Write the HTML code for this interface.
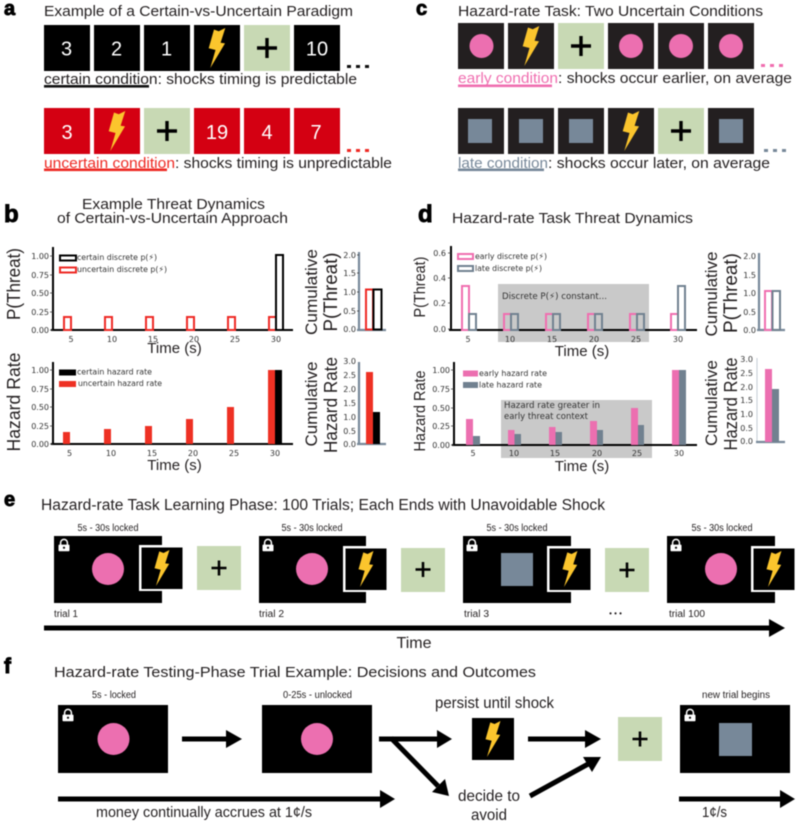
<!DOCTYPE html>
<html><head><meta charset="utf-8"><title>Hazard-rate task diagram</title>
<style>
html,body{margin:0;padding:0;background:#fff}
svg{display:block;filter:blur(.45px)}
text{font-family:"Liberation Sans",sans-serif;fill:#231f20}
.t{font-family:"DejaVu Sans",sans-serif;font-size:8px;fill:#333}
.e{text-anchor:end}.m{text-anchor:middle}
.L{font-family:"DejaVu Sans",sans-serif;font-size:8px;fill:#333}
.lab{font-weight:bold;stroke:#000;stroke-width:.9px;fill:#000}
.ax{stroke:#000;stroke-width:2;fill:none}
.gx{stroke:#778899;stroke-width:2.2;fill:none}
.tk{stroke:#333;stroke-width:.7;fill:none}
.oR{fill:none;stroke:#ee2a24;stroke-width:2}
.oK{fill:none;stroke:#000;stroke-width:2}
.oP{fill:none;stroke:#f06eb0;stroke-width:2}
.oG{fill:none;stroke:#718190;stroke-width:2}
</style></head><body>
<svg xmlns="http://www.w3.org/2000/svg" width="800" height="824" viewBox="0 0 800 824">
<defs>
<polygon id="bolt" points="-3,-18.5 1.7,-16.7 8.3,-20 3.6,-5.2 8,-4.6 -6.7,20 -1.5,2 -8.3,0.3" fill="#fbc52d"/>
<g id="plus"><path d="M-10,0H10M0,-10V10" stroke="#000" stroke-width="3.4" fill="none"/></g>
<g id="lock"><path d="M2.6,6V3.8a3.4,3.4 0 0 1 6.8,0V6" fill="none" stroke="#fff" stroke-width="1.5"/><rect x="0.5" y="5.6" width="11" height="6.6" rx=".8" fill="#fff"/><circle cx="6" cy="8.7" r="1.1" fill="#000"/></g>
<g id="shock"><rect x="0" y="0" width="45" height="46" fill="#fff"/><rect x="2.5" y="2.5" width="41" height="41.5" fill="#000"/><use href="#bolt" transform="translate(23,23) scale(.9)"/></g>
</defs>

<!-- panel a -->
<text class="lab" x="4" y="15" font-size="20">a</text>
<text x="44" y="16" font-size="14.8" textLength="309" lengthAdjust="spacingAndGlyphs">Example of a Certain-vs-Uncertain Paradigm</text>
<g fill="#000"><rect x="44" y="25" width="46" height="46"/><rect x="94" y="25" width="46" height="46"/><rect x="144" y="25" width="46" height="46"/><rect x="194" y="25" width="46" height="46"/><rect x="294" y="25" width="46" height="46"/></g>
<rect x="244" y="25" width="46" height="46" fill="#c8d9b4"/>
<g font-size="20" text-anchor="middle"><text x="66.5" y="55.5" style="fill:#fff">3</text><text x="116.5" y="55.5" style="fill:#fff">2</text><text x="166.5" y="55.5" style="fill:#fff">1</text><text x="317" y="55.5" style="fill:#fff">10</text></g>
<use href="#bolt" x="217" y="48"/><use href="#plus" x="267" y="48"/>
<g fill="#111"><rect x="347" y="65" width="4" height="3"/><rect x="356" y="65" width="4" height="3"/><rect x="365" y="65" width="4" height="3"/></g>
<text x="44" y="84" font-size="14.8" textLength="313" lengthAdjust="spacingAndGlyphs">certain condition: shocks timing is predictable</text>
<rect x="44" y="85" width="105" height="2.6" fill="#111"/>

<g fill="#d40012"><rect x="44" y="108" width="46" height="46"/><rect x="94" y="108" width="46" height="46"/><rect x="194" y="108" width="46" height="46"/><rect x="244" y="108" width="46" height="46"/><rect x="294" y="108" width="46" height="46"/></g>
<rect x="144" y="108" width="46" height="46" fill="#c8d9b4"/>
<g font-size="20" text-anchor="middle"><text x="67" y="139" style="fill:#fff">3</text><text x="217" y="139" style="fill:#fff">19</text><text x="267" y="139" style="fill:#fff">4</text><text x="316" y="139" style="fill:#fff">7</text></g>
<use href="#bolt" x="117" y="131"/><use href="#plus" x="167" y="131"/>
<g fill="#ee2a24"><rect x="347" y="149" width="4" height="3"/><rect x="356" y="149" width="4" height="3"/><rect x="365" y="149" width="4" height="3"/></g>
<text x="44" y="168" font-size="14.8" textLength="131" lengthAdjust="spacingAndGlyphs" style="fill:#ee2a24">uncertain condition</text>
<text x="175" y="168" font-size="14.8" textLength="217" lengthAdjust="spacingAndGlyphs">: shocks timing is unpredictable</text>
<rect x="44" y="168.5" width="123" height="2.6" fill="#ee2a24"/>

<!-- panel c -->
<text class="lab" x="416" y="15" font-size="20">c</text>
<text x="458" y="16" font-size="14.8" textLength="305" lengthAdjust="spacingAndGlyphs">Hazard-rate Task: Two Uncertain Conditions</text>
<g fill="#231f20"><rect x="458" y="23" width="46" height="46"/><rect x="508" y="23" width="46" height="46"/><rect x="608" y="23" width="46" height="46"/><rect x="658" y="23" width="46" height="46"/><rect x="708" y="23" width="46" height="46"/></g>
<rect x="558" y="23" width="46" height="46" fill="#c8d9b4"/>
<g fill="#ec6fb0"><circle cx="481.5" cy="46" r="12"/><circle cx="631" cy="46" r="12"/><circle cx="681" cy="46" r="12"/><circle cx="731" cy="46" r="12"/></g>
<use href="#bolt" x="531" y="46"/><use href="#plus" x="581" y="46"/>
<g fill="#f06eb0"><rect x="761" y="64" width="4" height="3"/><rect x="770" y="64" width="4" height="3"/><rect x="779" y="64" width="4" height="3"/></g>
<text x="458" y="83" font-size="14.8" textLength="100" lengthAdjust="spacingAndGlyphs" style="fill:#f06eb0">early condition</text>
<text x="558" y="83" font-size="14.8" textLength="234" lengthAdjust="spacingAndGlyphs">: shocks occur earlier, on average</text>
<rect x="458" y="84.5" width="94" height="2.6" fill="#f06eb0"/>

<g fill="#231f20"><rect x="458" y="108" width="46" height="46"/><rect x="508" y="108" width="46" height="46"/><rect x="558" y="108" width="46" height="46"/><rect x="608" y="108" width="46" height="46"/><rect x="708" y="108" width="46" height="46"/></g>
<rect x="658" y="108" width="46" height="46" fill="#c8d9b4"/>
<g fill="#778899"><rect x="468" y="119" width="24" height="24"/><rect x="519" y="119" width="24" height="24"/><rect x="569" y="119" width="24" height="24"/><rect x="719" y="119" width="24" height="24"/></g>
<use href="#bolt" x="631" y="131"/><use href="#plus" x="681" y="131"/>
<g fill="#778899"><rect x="764" y="149" width="4" height="3"/><rect x="773" y="149" width="4" height="3"/><rect x="782" y="149" width="4" height="3"/></g>
<text x="458" y="168" font-size="14.8" textLength="90" lengthAdjust="spacingAndGlyphs" style="fill:#778899">late condition</text>
<text x="548" y="168" font-size="14.8" textLength="222" lengthAdjust="spacingAndGlyphs">: shocks occur later, on average</text>
<rect x="458" y="168.5" width="86" height="2.6" fill="#778899"/>

<!-- panel b -->
<text class="lab" x="4" y="222" font-size="24">b</text>
<text x="173.5" y="209" class="m" font-size="14.8" textLength="183" lengthAdjust="spacingAndGlyphs">Example Threat Dynamics</text>
<text x="172.5" y="223" class="m" font-size="14.8" textLength="231" lengthAdjust="spacingAndGlyphs">of Certain-vs-Uncertain Approach</text>

<!-- b chart 1 -->
<path class="ax" d="M53,247V330M51,330H293"/>
<path class="tk" d="M50,256h3M50,275h3M50,293h3M50,312h3M50,330h3"/>
<text class="t e" x="49" y="259">1.00</text><text class="t e" x="49" y="278">0.75</text><text class="t e" x="49" y="296">0.50</text><text class="t e" x="49" y="315">0.25</text><text class="t e" x="49" y="333">0.00</text>
<text class="t m" x="71" y="342">5</text><text class="t m" x="112" y="342">10</text><text class="t m" x="153" y="342">15</text><text class="t m" x="194" y="342">20</text><text class="t m" x="235" y="342">25</text><text class="t m" x="276" y="342">30</text>
<rect class="oR" x="64" y="317" width="7" height="13"/><rect class="oR" x="105" y="317" width="7" height="13"/><rect class="oR" x="146" y="317" width="7" height="13"/><rect class="oR" x="187" y="317" width="7" height="13"/><rect class="oR" x="228" y="317" width="7" height="13"/><rect class="oR" x="269" y="317" width="7" height="13"/>
<rect class="oK" x="276" y="255" width="7" height="75"/>
<rect class="oK" x="60" y="255.5" width="16" height="5"/><text class="L" x="77" y="260" textLength="80" lengthAdjust="spacingAndGlyphs">certain discrete p(⚡)</text>
<rect class="oR" x="60" y="267.5" width="16" height="5"/><text class="L" x="77" y="272" textLength="90" lengthAdjust="spacingAndGlyphs">uncertain discrete p(⚡)</text>
<text x="174.5" y="353" class="m" font-size="15">Time (s)</text>
<text transform="translate(20,284) rotate(-90)" class="m" font-size="18" textLength="72" lengthAdjust="spacingAndGlyphs">P(Threat)</text>

<!-- b chart 1 small -->
<path class="gx" d="M359,252V330M357,330H386"/>
<path class="tk" d="M357,255h2M357,273h2M357,292h2M357,311h2"/>
<text class="t e" x="356" y="258">2.0</text><text class="t e" x="356" y="276">1.5</text><text class="t e" x="356" y="295">1.0</text><text class="t e" x="356" y="314">0.5</text><text class="t e" x="356" y="332">0.0</text>
<rect class="oR" x="366" y="289.5" width="7" height="40"/><rect class="oK" x="373.5" y="289.5" width="8" height="40"/>
<text transform="translate(317,292) rotate(-90)" class="m" font-size="17" textLength="86" lengthAdjust="spacingAndGlyphs">Cumulative</text>
<text transform="translate(337,292) rotate(-90)" class="m" font-size="19" textLength="79" lengthAdjust="spacingAndGlyphs">P(Threat)</text>

<!-- b chart 2 -->
<path class="ax" d="M53,362V444M51,444H293"/>
<path class="tk" d="M50,370h3M50,389h3M50,407h3M50,426h3M50,444h3"/>
<text class="t e" x="49" y="373">1.00</text><text class="t e" x="49" y="392">0.75</text><text class="t e" x="49" y="410">0.50</text><text class="t e" x="49" y="429">0.25</text><text class="t e" x="49" y="447">0.00</text>
<text class="t m" x="69.5" y="456">5</text><text class="t m" x="111" y="456">10</text><text class="t m" x="152" y="456">15</text><text class="t m" x="193" y="456">20</text><text class="t m" x="234" y="456">25</text><text class="t m" x="275" y="456">30</text>
<g fill="#ee3124"><rect x="63" y="432" width="7" height="12"/><rect x="104" y="429" width="7" height="15"/><rect x="145" y="426" width="7" height="18"/><rect x="186" y="419" width="7" height="25"/><rect x="227" y="407" width="7" height="37"/><rect x="268" y="370" width="7" height="74"/></g>
<rect x="275" y="370" width="7" height="74" fill="#000"/>
<rect x="59" y="369.5" width="17" height="6" fill="#000"/><text class="L" x="77" y="374.5" textLength="75" lengthAdjust="spacingAndGlyphs">certain hazard rate</text>
<rect x="59" y="381" width="17" height="6" fill="#ee3124"/><text class="L" x="78" y="386" textLength="84" lengthAdjust="spacingAndGlyphs">uncertain hazard rate</text>
<text x="174.5" y="470" class="m" font-size="15">Time (s)</text>
<text transform="translate(20,402) rotate(-90)" class="m" font-size="18" textLength="99" lengthAdjust="spacingAndGlyphs">Hazard Rate</text>

<!-- b chart 2 small -->
<path class="gx" d="M359,362V444M357,444H386"/>
<text class="t e" x="356" y="364">3.0</text><text class="t e" x="356" y="378">2.5</text><text class="t e" x="356" y="392">2.0</text><text class="t e" x="356" y="406">1.5</text><text class="t e" x="356" y="420">1.0</text><text class="t e" x="356" y="434">0.5</text><text class="t e" x="356" y="447">0.0</text>
<rect x="366" y="372" width="7" height="72" fill="#ee3124"/><rect x="373" y="412" width="7" height="32" fill="#000"/>
<text transform="translate(317,404) rotate(-90)" class="m" font-size="17" textLength="85" lengthAdjust="spacingAndGlyphs">Cumulative</text>
<text transform="translate(337,405) rotate(-90)" class="m" font-size="18" textLength="96" lengthAdjust="spacingAndGlyphs">Hazard Rate</text>

<!-- panel d -->
<text class="lab" x="418" y="222" font-size="24">d</text>
<text x="452" y="223" font-size="14.8" textLength="241" lengthAdjust="spacingAndGlyphs">Hazard-rate Task Threat Dynamics</text>

<!-- d chart 1 -->
<rect x="498" y="284" width="151" height="58" fill="#c9c9c9"/>
<path class="ax" d="M451,246V330M449,330H697"/>
<path class="tk" d="M448,253h3M448,278h3M448,303h3M448,329h3"/>
<text class="t e" x="446" y="256">0.6</text><text class="t e" x="446" y="281">0.4</text><text class="t e" x="446" y="306">0.2</text><text class="t e" x="446" y="332">0.0</text>
<text class="t m" x="468" y="342">5</text><text class="t m" x="510" y="342">10</text><text class="t m" x="552" y="342">15</text><text class="t m" x="594" y="342">20</text><text class="t m" x="636" y="342">25</text><text class="t m" x="678" y="342">30</text>
<text class="L" x="502" y="299" style="font-size:8.5px" textLength="105" lengthAdjust="spacingAndGlyphs">Discrete P(⚡) constant...</text>
<rect class="oP" x="462" y="286" width="7" height="44"/><rect class="oG" x="469" y="314" width="7" height="16"/>
<rect class="oP" x="504" y="314" width="7" height="16"/><rect class="oG" x="511" y="314" width="7" height="16"/>
<rect class="oP" x="546" y="314" width="7" height="16"/><rect class="oG" x="553" y="314" width="7" height="16"/>
<rect class="oP" x="588" y="314" width="7" height="16"/><rect class="oG" x="595" y="314" width="7" height="16"/>
<rect class="oP" x="630" y="314" width="7" height="16"/><rect class="oG" x="637" y="314" width="7" height="16"/>
<rect class="oP" x="671" y="314" width="7" height="16"/><rect class="oG" x="678" y="286" width="7" height="44"/>
<rect class="oP" x="458" y="254" width="15" height="5"/><text class="L" x="475" y="259" textLength="72" lengthAdjust="spacingAndGlyphs">early discrete p(⚡)</text>
<rect class="oG" x="458" y="266" width="15" height="5"/><text class="L" x="475" y="271" textLength="67" lengthAdjust="spacingAndGlyphs">late discrete p(⚡)</text>
<text x="582" y="356" class="m" font-size="15">Time (s)</text>
<text transform="translate(425,287) rotate(-90)" class="m" font-size="15.5" textLength="61" lengthAdjust="spacingAndGlyphs">P(Threat)</text>

<!-- d chart 1 small -->
<path class="gx" d="M759,253V330M757,330H785"/>
<text class="t e" x="756" y="259">2.0</text><text class="t e" x="756" y="278">1.5</text><text class="t e" x="756" y="296">1.0</text><text class="t e" x="756" y="315">0.5</text><text class="t e" x="756" y="333">0.0</text>
<rect class="oP" x="765" y="291" width="7" height="39"/><rect class="oG" x="772.5" y="291" width="7.5" height="39"/>
<text transform="translate(717,294) rotate(-90)" class="m" font-size="17" textLength="85" lengthAdjust="spacingAndGlyphs">Cumulative</text>
<text transform="translate(737,293) rotate(-90)" class="m" font-size="19" textLength="80" lengthAdjust="spacingAndGlyphs">P(Threat)</text>

<!-- d chart 2 -->
<rect x="501" y="400" width="151" height="58" fill="#c9c9c9"/>
<path class="ax" d="M454,362V445M452,445H697"/>
<path class="tk" d="M451,370h3M451,389h3M451,408h3M451,426h3M451,445h3"/>
<text class="t e" x="450" y="373">1.00</text><text class="t e" x="450" y="392">0.75</text><text class="t e" x="450" y="411">0.50</text><text class="t e" x="450" y="429">0.25</text><text class="t e" x="450" y="448">0.00</text>
<text class="t m" x="473" y="456">5</text><text class="t m" x="514" y="456">10</text><text class="t m" x="555" y="456">15</text><text class="t m" x="597" y="456">20</text><text class="t m" x="637" y="456">25</text><text class="t m" x="679" y="456">30</text>
<text class="L" x="504" y="408" style="font-size:8.5px" textLength="96" lengthAdjust="spacingAndGlyphs">Hazard rate greater in</text>
<text class="L" x="504" y="419" style="font-size:8.5px" textLength="84" lengthAdjust="spacingAndGlyphs">early threat context</text>
<g fill="#ec6fb0"><rect x="466" y="419" width="7" height="26"/><rect x="508" y="430" width="6.5" height="15"/><rect x="549" y="427" width="6.5" height="18"/><rect x="590" y="421" width="7" height="24"/><rect x="631" y="408" width="7" height="37"/><rect x="672" y="370" width="7" height="75"/></g>
<g fill="#718190"><rect x="473" y="436" width="7" height="9"/><rect x="514.5" y="434" width="6.5" height="11"/><rect x="555.5" y="432" width="6.5" height="13"/><rect x="597" y="430" width="6" height="15"/><rect x="638" y="425" width="6" height="20"/><rect x="679" y="370" width="7" height="75"/></g>
<rect x="463" y="370.5" width="15" height="6" fill="#ec6fb0"/><text class="L" x="479" y="376" textLength="68" lengthAdjust="spacingAndGlyphs">early hazard rate</text>
<rect x="463" y="382" width="15" height="6" fill="#718190"/><text class="L" x="479" y="387.5" textLength="63" lengthAdjust="spacingAndGlyphs">late hazard rate</text>
<text x="582" y="471" class="m" font-size="15">Time (s)</text>
<text transform="translate(425,411) rotate(-90)" class="m" font-size="15.5" textLength="81" lengthAdjust="spacingAndGlyphs">Hazard Rate</text>

<!-- d chart 2 small -->
<path d="M757,358V442" stroke="#c5cdd5" stroke-width="1" fill="none"/>
<path class="gx" d="M756,442H785"/>
<text class="t e" x="753" y="362">3.0</text><text class="t e" x="753" y="376">2.5</text><text class="t e" x="753" y="390">2.0</text><text class="t e" x="753" y="403">1.5</text><text class="t e" x="753" y="417">1.0</text><text class="t e" x="753" y="431">0.5</text><text class="t e" x="753" y="444">0.0</text>
<rect x="765" y="369" width="7" height="73" fill="#ec6fb0"/><rect x="772" y="389" width="7" height="53" fill="#718190"/>
<text transform="translate(717,403) rotate(-90)" class="m" font-size="17" textLength="86" lengthAdjust="spacingAndGlyphs">Cumulative</text>
<text transform="translate(737,404) rotate(-90)" class="m" font-size="18" textLength="93" lengthAdjust="spacingAndGlyphs">Hazard Rate</text>

<!-- panel e -->
<text class="lab" x="4" y="506" font-size="20">e</text>
<text x="41" y="510" font-size="15.5" textLength="564" lengthAdjust="spacingAndGlyphs">Hazard-rate Task Learning Phase: 100 Trials; Each Ends with Unavoidable Shock</text>

<text x="108" y="531" class="m" font-size="10" textLength="61" lengthAdjust="spacingAndGlyphs">5s - 30s locked</text>
<rect x="54" y="536" width="108" height="67" fill="#000"/>
<circle cx="108" cy="569" r="16" fill="#ec6fb0"/>
<use href="#lock" x="58" y="539"/>
<use href="#shock" x="139" y="545"/>
<rect x="197" y="546" width="44" height="44" fill="#c8d9b4"/>
<use href="#plus" transform="translate(219,568) scale(.75)"/>
<text x="54" y="617" font-size="10" textLength="24" lengthAdjust="spacingAndGlyphs">trial 1</text>

<text x="312" y="531" class="m" font-size="10" textLength="61" lengthAdjust="spacingAndGlyphs">5s - 30s locked</text>
<rect x="259" y="536" width="107" height="67" fill="#000"/>
<circle cx="312" cy="569" r="16" fill="#ec6fb0"/>
<use href="#lock" x="262" y="539"/>
<use href="#shock" x="343" y="546"/>
<rect x="401" y="548" width="44" height="44" fill="#c8d9b4"/>
<use href="#plus" transform="translate(423,569.5) scale(.75)"/>
<text x="259" y="617" font-size="10" textLength="25" lengthAdjust="spacingAndGlyphs">trial 2</text>

<text x="517" y="531" class="m" font-size="10" textLength="61" lengthAdjust="spacingAndGlyphs">5s - 30s locked</text>
<rect x="463" y="536" width="108" height="67" fill="#000"/>
<rect x="501" y="553" width="32" height="33" fill="#778899"/>
<use href="#lock" x="466" y="539"/>
<use href="#shock" x="547" y="546"/>
<rect x="605" y="548" width="44" height="44" fill="#c8d9b4"/>
<use href="#plus" transform="translate(627,570) scale(.75)"/>
<text x="464" y="617" font-size="10" textLength="25" lengthAdjust="spacingAndGlyphs">trial 3</text>
<text x="615.5" y="616" class="m" font-size="8">• • •</text>

<text x="722" y="531" class="m" font-size="10" textLength="61" lengthAdjust="spacingAndGlyphs">5s - 30s locked</text>
<rect x="667" y="536" width="108" height="67" fill="#000"/>
<circle cx="721" cy="569" r="16" fill="#ec6fb0"/>
<use href="#lock" x="670" y="539"/>
<use href="#shock" x="751" y="546"/>
<text x="669" y="617" font-size="10" textLength="36" lengthAdjust="spacingAndGlyphs">trial 100</text>

<rect x="44" y="625.5" width="726" height="5" fill="#000"/>
<polygon points="769,619 785,628 769,637" fill="#000"/>
<text x="414" y="648" class="m" font-size="16">Time</text>

<!-- panel f -->
<text class="lab" x="4" y="673" font-size="21">f</text>
<text x="54" y="677" font-size="14.8" textLength="482" lengthAdjust="spacingAndGlyphs">Hazard-rate Testing-Phase Trial Example: Decisions and Outcomes</text>

<text x="114" y="698" class="m" font-size="10" textLength="44" lengthAdjust="spacingAndGlyphs">5s - locked</text>
<rect x="58" y="705" width="110" height="68" fill="#000"/>
<circle cx="113.5" cy="739" r="16" fill="#ec6fb0"/>
<use href="#lock" x="62" y="709"/>

<rect x="182" y="736.5" width="45" height="5" fill="#000"/>
<polygon points="226,730 242,739 226,748" fill="#000"/>

<text x="317.5" y="698" class="m" font-size="10" textLength="69" lengthAdjust="spacingAndGlyphs">0-25s - unlocked</text>
<rect x="262" y="705" width="110" height="68" fill="#000"/>
<circle cx="317" cy="739" r="16" fill="#ec6fb0"/>

<rect x="379" y="736.5" width="59" height="5" fill="#000"/>
<polygon points="437,730 452,739 437,748" fill="#000"/>
<path d="M391,738L438,786" stroke="#000" stroke-width="5" fill="none"/>
<polygon points="449,796 432,792 445,779" fill="#000"/>

<text x="435" y="708" font-size="16" textLength="119" lengthAdjust="spacingAndGlyphs">persist until shock</text>
<rect x="472" y="718" width="42" height="42" fill="#000"/>
<use href="#bolt" transform="translate(493,739) scale(.9)"/>

<rect x="528" y="736.5" width="58" height="5" fill="#000"/>
<polygon points="585,730 601,739 585,748" fill="#000"/>
<path d="M530,796L590,763" stroke="#000" stroke-width="5" fill="none"/>
<polygon points="601,757 583,757 592,772" fill="#000"/>

<rect x="618" y="717" width="44" height="44" fill="#c8d9b4"/>
<use href="#plus" transform="translate(640,739) scale(.75)"/>

<text x="489" y="801" class="m" font-size="16" textLength="62" lengthAdjust="spacingAndGlyphs">decide to</text>
<text x="489" y="820" class="m" font-size="16" textLength="36" lengthAdjust="spacingAndGlyphs">avoid</text>

<text x="736" y="698" class="m" font-size="10" textLength="68" lengthAdjust="spacingAndGlyphs">new trial begins</text>
<rect x="680" y="705" width="110" height="68" fill="#000"/>
<rect x="719" y="723" width="33" height="33" fill="#778899"/>
<use href="#lock" x="684" y="709"/>

<rect x="58" y="796.5" width="323" height="5" fill="#000"/>
<polygon points="380,790 395,799 380,808" fill="#000"/>
<text x="96" y="817" font-size="15" textLength="216" lengthAdjust="spacingAndGlyphs">money continually accrues at 1¢/s</text>

<rect x="679" y="796.5" width="102" height="5" fill="#000"/>
<polygon points="780,790 795,799 780,808" fill="#000"/>
<text x="702" y="817" font-size="15" textLength="25" lengthAdjust="spacingAndGlyphs">1¢/s</text>
</svg>
</body></html>
